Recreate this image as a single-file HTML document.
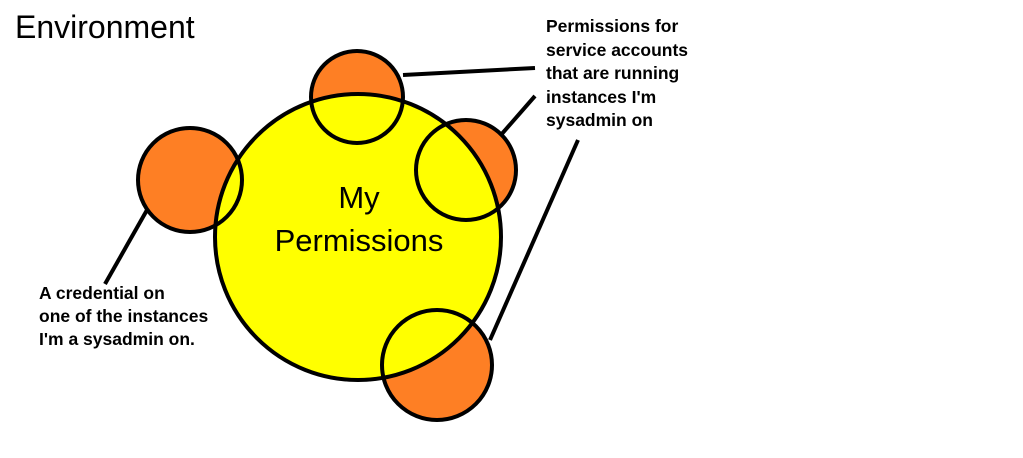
<!DOCTYPE html>
<html><head><style>
body{margin:0;background:#fff;width:1023px;height:453px;overflow:hidden;font-family:"Liberation Sans",sans-serif}
</style></head><body>
<svg width="1023" height="453" xmlns="http://www.w3.org/2000/svg">
<rect width="1023" height="453" fill="#fff"/>
<g fill="#fe7f24">
<circle cx="357" cy="97" r="46"/>
<circle cx="466" cy="170" r="50"/>
<circle cx="190" cy="180" r="52"/>
<circle cx="437" cy="365" r="55"/>
</g>
<circle cx="358" cy="237" r="143" fill="#ffff00"/>
<g fill="none" stroke="#000" stroke-width="4">
<circle cx="358" cy="237" r="143"/>
<circle cx="357" cy="97" r="46"/>
<circle cx="466" cy="170" r="50"/>
<circle cx="190" cy="180" r="52"/>
<circle cx="437" cy="365" r="55"/>
<line x1="403" y1="75" x2="535" y2="68"/>
<line x1="500" y1="136" x2="535" y2="96"/>
<line x1="147" y1="210" x2="105" y2="284"/>
<line x1="490" y1="340" x2="578" y2="140"/>
</g>
<text x="15" y="38" font-size="32" fill="#000">Environment</text>
<text x="359" y="208" font-size="31" text-anchor="middle">My</text>
<text x="359" y="251" font-size="31" text-anchor="middle">Permissions</text>
<g font-size="17.5" font-weight="bold" fill="#000">
<text x="546" y="32">Permissions for</text>
<text x="546" y="56">service accounts</text>
<text x="546" y="79">that are running</text>
<text x="546" y="103">instances I'm</text>
<text x="546" y="126">sysadmin on</text>
<text x="39" y="299">A credential on</text>
<text x="39" y="322">one of the instances</text>
<text x="39" y="345">I'm a sysadmin on.</text>
</g>
</svg>
</body></html>
